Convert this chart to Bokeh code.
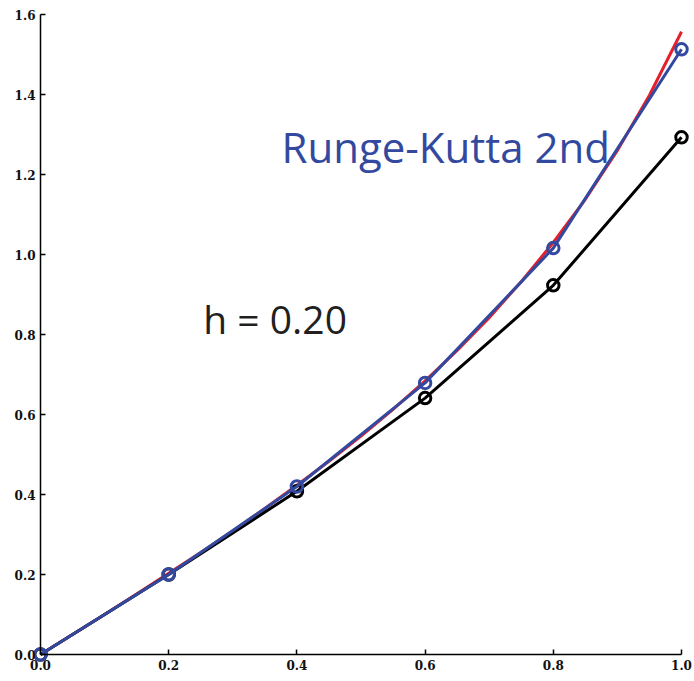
from bokeh.plotting import figure
from bokeh.embed import file_html
from bokeh.resources import INLINE
from bokeh.models import Range1d, FixedTicker, NumeralTickFormatter
from bokeh.core.properties import value

# data
x_exact = [0.0, 0.05, 0.10, 0.15, 0.20, 0.25, 0.30, 0.35, 0.40, 0.45, 0.50,
           0.55, 0.60, 0.65, 0.70, 0.75, 0.80, 0.85, 0.90, 0.95, 1.0]
y_exact = [0.0, 0.050, 0.100, 0.151, 0.203, 0.255, 0.309, 0.365, 0.423, 0.483, 0.546,
           0.613, 0.684, 0.760, 0.842, 0.932, 1.030, 1.138, 1.260, 1.398, 1.557]
x_steps = [0.0, 0.2, 0.4, 0.6, 0.8, 1.0]
y_euler = [0.0, 0.200, 0.408, 0.641, 0.923, 1.293]
y_rk2 = [0.0, 0.200, 0.420, 0.679, 1.016, 1.513]
x_ticks = [0.0, 0.2, 0.4, 0.6, 0.8, 1.0]
y_ticks = [0.0, 0.2, 0.4, 0.6, 0.8, 1.0, 1.2, 1.4, 1.6]
label_h = "h = 0.20"
label_method = "Runge-Kutta 2nd"

BLUE = "#3349a0"
RED = "#e5202a"

# the frame fills the canvas; axes are pinned at 0 so end markers are not clipped
p = figure(width=694, height=681, output_backend="svg", toolbar_location=None,
           x_range=Range1d(-0.0624, 1.02028), y_range=Range1d(-0.0675, 1.635),
           min_border_left=0, min_border_right=0, min_border_top=0, min_border_bottom=0)
p.outline_line_color = None
p.xgrid.visible = False
p.ygrid.visible = False

for ax, ticks in ((p.xaxis[0], x_ticks), (p.yaxis[0], y_ticks)):
    ax.ticker = FixedTicker(ticks=ticks)
    ax.formatter = NumeralTickFormatter(format="0.0")
    ax.fixed_location = 0
    ax.bounds = (ticks[0], ticks[-1])
    ax.major_tick_in = 5
    ax.major_tick_out = 0
    ax.minor_tick_line_color = None
    ax.axis_line_width = 1.5
    ax.major_tick_line_width = 1.5
    ax.major_label_text_font = "DejaVu Serif"
    ax.major_label_text_font_style = "bold"
    ax.major_label_text_font_size = "12px"
    ax.major_label_text_color = "#111111"
    ax.major_label_standoff = 5

p.line(x_exact, y_exact, line_color=RED, line_width=3)
p.line(x_steps, y_euler, line_color="black", line_width=3)
p.scatter(x_steps, y_euler, marker="circle", size=11.5, fill_color=None,
          line_color="black", line_width=3)
p.line(x_steps, y_rk2, line_color=BLUE, line_width=3)
p.scatter(x_steps, y_rk2, marker="circle", size=11.5, fill_color=None,
          line_color=BLUE, line_width=3)

p.text(x=[0.254], y=[0.840], text=[label_h], text_font=value("Open Sans"),
       text_font_size="39px", text_color="#231f20", text_baseline="middle", text_align="left")
p.text(x=[0.376], y=[1.270], text=[label_method], text_font=value("Open Sans"),
       text_font_size="42px", text_color=BLUE, text_baseline="middle", text_align="left")

open("out.html", "w").write(file_html(p, INLINE))
